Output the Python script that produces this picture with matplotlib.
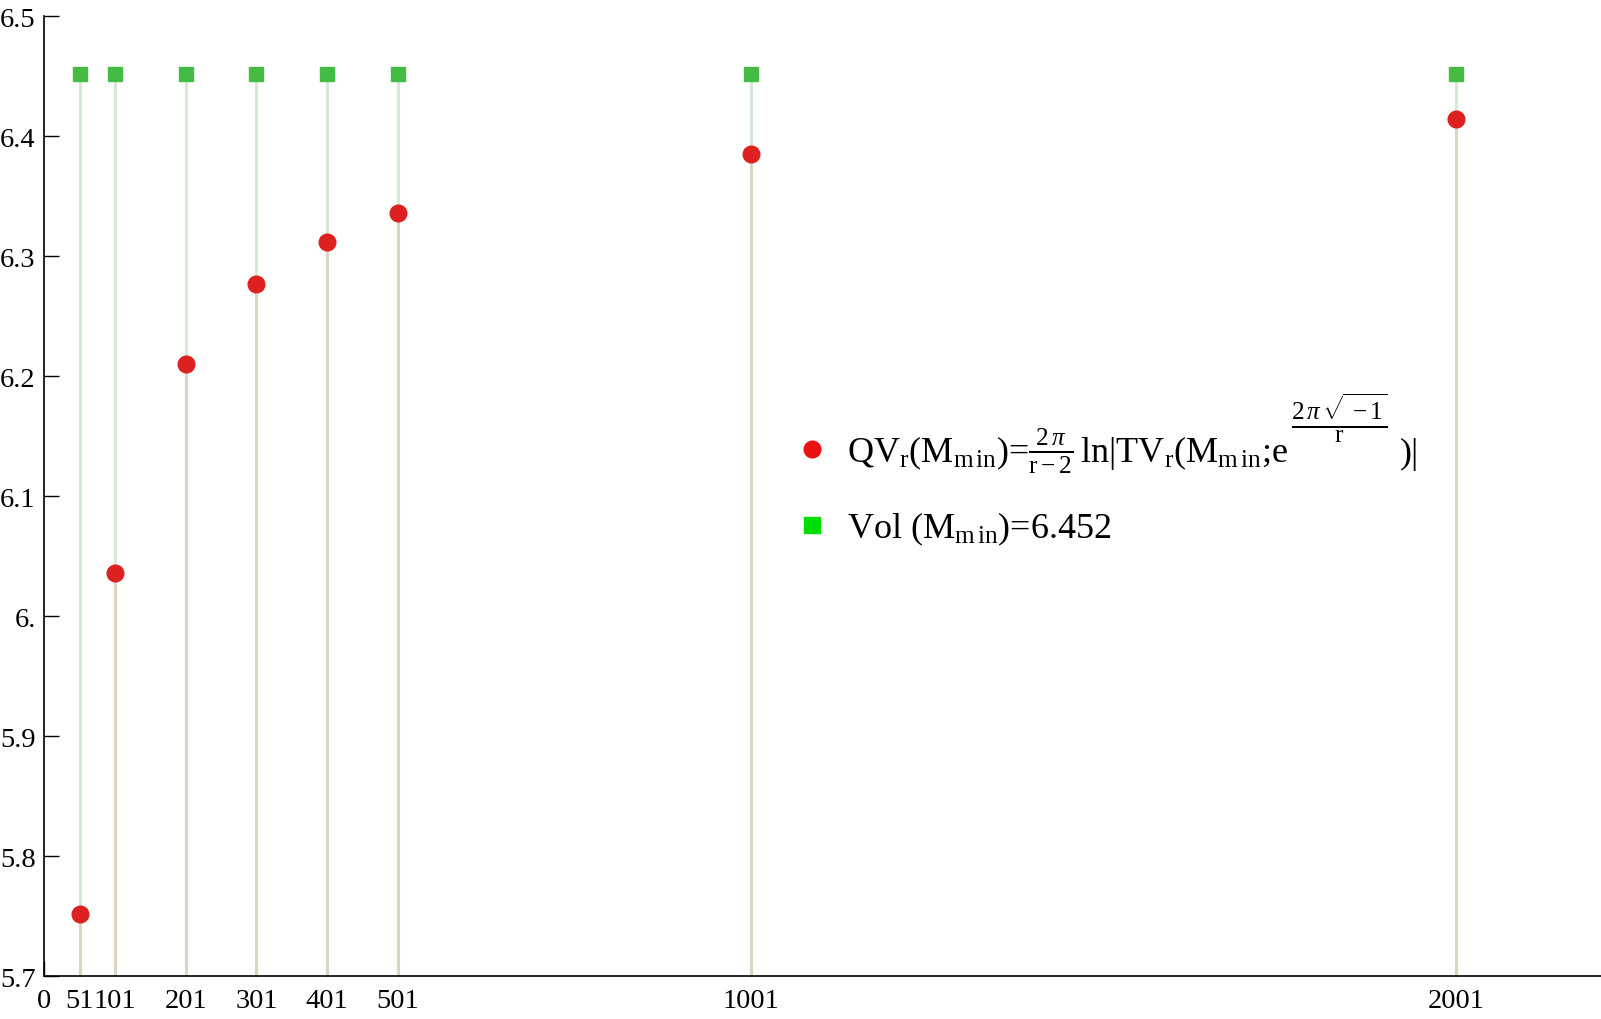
import matplotlib
matplotlib.use("Agg")
import matplotlib.pyplot as plt
from matplotlib.lines import Line2D

# r values and the two series
r_values = [51, 101, 201, 301, 401, 501, 1001, 2001]
qv_values = [5.752, 6.036, 6.210, 6.2765, 6.312, 6.336, 6.385, 6.4138]
vol_value = 6.452
x_ticks = [0, 51, 101, 201, 301, 401, 501, 1001, 2001]
y_ticks = [5.7, 5.8, 5.9, 6.0, 6.1, 6.2, 6.3, 6.4, 6.5]
y_tick_labels = ["5.7", "5.8", "5.9", "6.", "6.1", "6.2", "6.3", "6.4", "6.5"]

plt.rcParams['font.family'] = ['Liberation Serif', 'DejaVu Serif']
plt.rcParams['mathtext.fontset'] = 'custom'
plt.rcParams['mathtext.rm'] = 'Liberation Serif'
plt.rcParams['mathtext.it'] = 'Liberation Serif:italic'

fig = plt.figure(figsize=(16.01, 10.20), dpi=100)
ax = fig.add_axes([44 / 1601, 43 / 1020, 1 - 44 / 1601, 960 / 1020])

red_stem = "#dcd5c2"
green_stem = "#d5ead5"
red_dot = "#dd2020"
green_sq = "#44bb44"

# green stems behind, red stems in front
ax.vlines(r_values, 5.7, [vol_value] * len(r_values), color=green_stem, lw=2.2, zorder=1)
ax.vlines(r_values, 5.7, qv_values, color=red_stem, lw=2.2, zorder=2)
ax.plot(r_values, [vol_value] * len(r_values), "s", color=green_sq, ms=10, zorder=3)
ax.plot(r_values, qv_values, "o", color=red_dot, ms=12, zorder=4)

ax.set_xlim(0, 2206)
ax.set_ylim(5.7, 6.5)
ax.set_xticks(x_ticks)
ax.set_xticklabels([str(v) for v in x_ticks])
ax.set_yticks(y_ticks)
ax.set_yticklabels(y_tick_labels)
ax.tick_params(direction="in", length=11, width=1, labelsize=20.5)
ax.tick_params(axis="y", pad=6)
ax.tick_params(axis="x", pad=9)

ax.spines["top"].set_visible(False)
ax.spines["right"].set_visible(False)
ax.spines["left"].set_linewidth(1.2)
ax.spines["bottom"].set_linewidth(1.2)

# legend; the big exponent of e is added afterwards as its own text
fs = 26
qv_label = (r"QV$_\mathrm{r}$(M$_\mathrm{m\,in}$)=$\frac{2\,\pi}{\mathrm{r-2}}\,$ln|TV$_\mathrm{r}$"
            r"(M$_\mathrm{m\,in}$;e")
vol_label = r"Vol (M$_\mathrm{m\,in}$)=6.452"
handles = [
    Line2D([], [], ls="none", marker="o", color="#ee1111", ms=12),
    Line2D([], [], ls="none", marker="s", color="#00dd00", ms=11),
]
leg = ax.legend(handles, [qv_label, vol_label], loc="lower left",
                bbox_to_anchor=(0.461, 0.413), frameon=False, fontsize=fs,
                handletextpad=0.45, labelspacing=0.97, handlelength=1.0)

fig.canvas.draw()
renderer = fig.canvas.get_renderer()
qv_text = leg.get_texts()[0]
base_x, base_y = qv_text.get_transform().transform(qv_text.get_position())
right = qv_text.get_window_extent(renderer).x1
W, H = fig.bbox.width, fig.bbox.height

exp_text = fig.text((right + 4) / W, (base_y + 26) / H,
                    r"$\frac{2\,\pi\,\sqrt{\,-1}}{\mathrm{r}}$",
                    fontsize=fs, ha="left", va="baseline")
fig.canvas.draw()
exp_right = exp_text.get_window_extent(renderer).x1
fig.text((exp_right + 12) / W, base_y / H, ")|", fontsize=fs, ha="left", va="baseline")

fig.savefig("out.png", dpi=100)
